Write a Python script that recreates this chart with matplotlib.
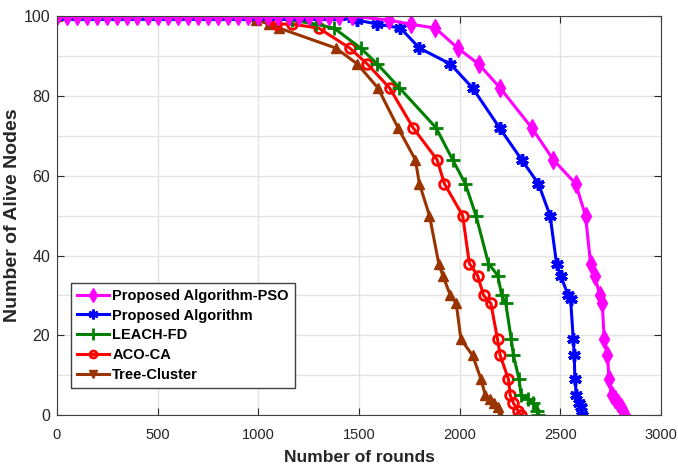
import matplotlib
matplotlib.use("Agg")
import matplotlib.pyplot as plt
from matplotlib.lines import Line2D

plt.rcParams['font.family'] = ['Liberation Sans', 'DejaVu Sans']

# rounds / alive nodes
pso_x = [0, 50, 100, 150, 200, 250, 300, 350, 400, 450, 500, 550, 600, 650, 700,
         750, 800, 850, 900, 950, 1000, 1050, 1100, 1150, 1200, 1250, 1300, 1350,
         1400, 1465, 1648, 1756, 1879, 1990, 2094, 2201, 2358, 2465, 2576, 2625,
         2650, 2671, 2696, 2708, 2718, 2734, 2742, 2754, 2770, 2785, 2800, 2810, 2820]
pso_y = [100, 100, 100, 100, 100, 100, 100, 100, 100, 100, 100, 100, 100, 100, 100,
         100, 100, 100, 100, 100, 100, 100, 100, 100, 100, 100, 100, 100,
         100, 100, 99, 98, 97, 92, 88, 82, 72, 64, 58, 50,
         38, 35, 30, 28, 19, 15, 9, 5, 4, 3, 2, 1, 0]

prop_x = [0, 50, 100, 150, 200, 250, 300, 350, 400, 450, 500, 550, 600, 650, 700,
          750, 800, 850, 900, 950, 1000, 1050, 1100, 1150, 1200, 1250, 1300, 1350,
          1400, 1450, 1492, 1591, 1706, 1800, 1954, 2064, 2198, 2308, 2391, 2449,
          2481, 2501, 2539, 2551, 2564, 2569, 2572, 2580, 2592, 2602, 2608]
prop_y = [100, 100, 100, 100, 100, 100, 100, 100, 100, 100, 100, 100, 100, 100, 100,
          100, 100, 100, 100, 100, 100, 100, 100, 100, 100, 100, 100, 100,
          100, 100, 99, 98, 97, 92, 88, 82, 72, 64, 58, 50,
          38, 35, 30, 29, 19, 15, 9, 5, 3, 2, 0]

leach_x = [0, 1000, 1168, 1285, 1376, 1508, 1591, 1701, 1883, 1965, 2028, 2081,
           2143, 2189, 2209, 2229, 2256, 2267, 2295, 2305, 2338, 2366, 2383, 2391]
leach_y = [100, 100, 99, 98, 97, 92, 88, 82, 72, 64, 58, 50,
           38, 35, 30, 28, 19, 15, 9, 5, 4, 3, 1, 0]

aco_x = [0, 1000, 1087, 1168, 1300, 1454, 1541, 1652, 1769, 1888, 1924, 2015,
         2048, 2089, 2119, 2155, 2188, 2201, 2242, 2251, 2267, 2292, 2303]
aco_y = [100, 100, 98, 98, 97, 92, 88, 82, 72, 64, 58, 50,
         38, 35, 30, 28, 19, 15, 9, 5, 3, 1, 0]

tree_x = [0, 975, 988, 1054, 1104, 1385, 1492, 1594, 1694, 1780, 1800, 1850,
          1896, 1916, 1954, 1983, 2006, 2064, 2106, 2127, 2152, 2172, 2189, 2201]
tree_y = [100, 100, 99, 98, 97, 92, 88, 82, 72, 64, 58, 50,
          38, 35, 30, 28, 19, 15, 9, 5, 4, 3, 2, 0]

labels = ['Proposed Algorithm-PSO', 'Proposed Algorithm', 'LEACH-FD', 'ACO-CA', 'Tree-Cluster']

fig = plt.figure(figsize=(6.78, 4.75), dpi=100)
ax = fig.add_axes([0.084, 0.126, 0.891, 0.840])

brown = '#993300'
ast = (6, 2, 0)
ax.plot(tree_x, tree_y, color=brown, lw=2.2, marker='^', ms=7)
ax.plot(aco_x, aco_y, color='red', lw=2.2, marker='o', ms=7, mfc='none', mew=2)
ax.plot(leach_x, leach_y, color='green', lw=2.2, marker='+', ms=10, mew=2)
ax.plot(prop_x, prop_y, color='blue', lw=2.2, marker=ast, ms=9, mew=2.5)
ax.plot(pso_x, pso_y, color='magenta', lw=2.2, marker='d', ms=9)

ax.set_xlim(0, 3000)
ax.set_ylim(0, 100)
ax.set_xticks([0, 500, 1000, 1500, 2000, 2500, 3000])
ax.set_yticks([0, 20, 40, 60, 80, 100])
ax.set_yticks([10, 30, 50, 70, 90], minor=True)
ax.grid(True, which='both', color='#e3e3e3', lw=1)
ax.set_axisbelow(True)
ax.tick_params(direction='in', top=True, right=True, labelsize=11.5, colors='#262626', length=5)
ax.tick_params(axis='x', pad=9, labelsize=10.5)
ax.tick_params(axis='y', pad=5)
ax.tick_params(which='minor', length=0)
for s in ax.spines.values():
    s.set_color('#404040')

ax.set_xlabel('Number of rounds', fontsize=12.5, fontweight='bold', color='#262626', labelpad=6)
ax.set_ylabel('Number of Alive Nodes', fontsize=14, fontweight='bold', color='#262626', labelpad=2)

handles = [
    Line2D([], [], color='magenta', lw=2.2, marker='d', ms=7),
    Line2D([], [], color='blue', lw=2.2, marker=ast, ms=7, mew=2),
    Line2D([], [], color='green', lw=2.2, marker='+', ms=8, mew=2),
    Line2D([], [], color='red', lw=2.2, marker='o', ms=5, mfc='none', mew=2),
    Line2D([], [], color=brown, lw=2.2, marker='v', ms=6),
]
leg = ax.legend(handles, labels, loc='lower left', bbox_to_anchor=(0.012, 0.05),
                prop={'weight': 'bold', 'size': 10.5}, fancybox=False, framealpha=1,
                edgecolor='#404040', handlelength=2.2, handletextpad=0.2,
                labelspacing=0.4, borderpad=0.4)
leg.get_frame().set_linewidth(1)

fig.savefig('out.png', dpi=100)
